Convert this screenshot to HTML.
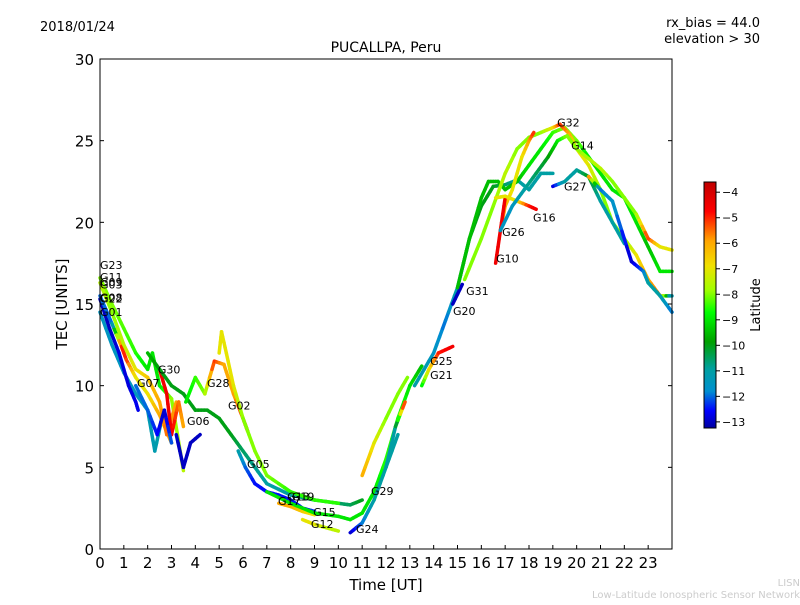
<!DOCTYPE html>
<html><head><meta charset="utf-8"><style>
body{margin:0;background:#fff;}
svg{font-family:"DejaVu Sans","Liberation Sans",sans-serif;}
</style></head><body>
<svg id="c" width="800" height="600" viewBox="0 0 800 600">
<defs><linearGradient id="jet" x1="0" y1="1" x2="0" y2="0">
<stop offset="0" stop-color="#0000a0"/><stop offset="0.07" stop-color="#0000ff"/><stop offset="0.15" stop-color="#0090d0"/><stop offset="0.24" stop-color="#00a0a0"/><stop offset="0.35" stop-color="#00a000"/><stop offset="0.47" stop-color="#00ff00"/><stop offset="0.56" stop-color="#a0ff00"/><stop offset="0.66" stop-color="#f0e000"/><stop offset="0.76" stop-color="#ffa500"/><stop offset="0.88" stop-color="#ff0000"/><stop offset="1" stop-color="#c00000"/></linearGradient></defs>
<rect width="800" height="600" fill="#fff"/>
<text x="40" y="31" font-size="13">2018/01/24</text>
<text x="760" y="27" font-size="13" text-anchor="end">rx_bias = 44.0</text>
<text x="760" y="43" font-size="13" text-anchor="end">elevation &gt; 30</text>
<text x="386" y="52" font-size="14" text-anchor="middle">PUCALLPA, Peru</text>
<g id="marks"></g>
<g id="labels"></g>
<rect x="100" y="59" width="572" height="490" fill="none" stroke="#000" stroke-width="1"/>
<g id="xt"></g><g id="yt"></g>
<text x="386" y="590" font-size="15" text-anchor="middle">Time [UT]</text>
<text transform="translate(67,304) rotate(-90)" font-size="15" text-anchor="middle">TEC [UNITS]</text>
<rect x="704" y="182" width="12" height="246" fill="url(#jet)" stroke="#000" stroke-width="1"/>
<g id="ct"></g>
<text transform="translate(760,305) rotate(-90)" font-size="13" text-anchor="middle">Latitude</text>
<text x="800" y="586" font-size="10" fill="#ccc" text-anchor="end">LISN</text>
<text x="800" y="598" font-size="10" fill="#ccc" text-anchor="end">Low-Latitude Ionospheric Sensor Network</text>
</svg>
<script>
const xTicks=[0,1,2,3,4,5,6,7,8,9,10,11,12,13,14,15,16,17,18,19,20,21,22,23];
const yTicks=[0,5,10,15,20,25,30];
const cTicks=[-4,-5,-6,-7,-8,-9,-10,-11,-12,-13];
// each trace: [time, tec, latitude]
const g01=[[0,14.5,-11.5],[0.5,12.5,-11.5],[1,10.8,-11.5],[1.5,9.5,-11.5],[2,8.5,-11.3],[2.3,6,-11.2],[2.6,8,-11],[3,6.5,-11]];
const g22=[[0,15.3,-13],[0.4,13.5,-13],[0.8,12,-12.8],[1.2,10,-12.8],[1.5,9,-12.7],[1.6,8.5,-12.7]];
const g08=[[0,15.5,-12],[0.5,13.8,-12],[0.9,12.4,-5],[1.1,11.6,-5],[1.5,10.5,-7],[2,9.5,-7],[2.5,8.2,-6],[3,6.5,-6]];
const g11=[[0,16.6,-8],[0.5,15,-8],[1,13.5,-8.3],[1.5,12,-8.5],[2,11,-9],[2.2,12,-9],[2.5,10,-9],[3,9.2,-8],[3.5,4.8,-7.5]];
const g09=[[0,16.3,-7.5],[0.5,14.5,-8],[1,12.5,-7.5],[1.5,11,-7],[2,10.5,-6.5],[2.5,9,-6],[2.8,7,-5.5],[3.2,9,-6]];
const g30=[[2.5,11,-4.5],[2.8,9.5,-4.5],[3.0,7,-4.5],[3.3,9,-5.5],[3.5,7.5,-6]];
const g07=[[1.5,10,-12],[2,8.5,-12],[2.4,7,-12.5],[2.7,8.5,-13],[3,6.5,-12]];
const g06=[[3.2,7,-13],[3.5,5,-13],[3.8,6.5,-13],[4.2,7,-13]];
const g03=[[2,12,-9.5],[2.5,11,-10],[3,10,-10],[3.5,9.5,-10],[4,8.5,-10],[4.5,8.5,-10],[5,8,-10],[5.5,7,-10],[6,6,-10.5],[6.5,5,-10.8],[7,4,-11],[8,3.3,-11],[9,3,-10.5],[10,2.8,-10.5],[10.5,2.7,-10.5],[11,3,-10]];
const g28=[[3.6,9,-9],[4,10.5,-8.5],[4.4,9.5,-8],[4.8,11.5,-5],[5.2,11.3,-6],[5.6,9.5,-6],[6,8,-5],[6.2,7.2,-4.5]];
const g02=[[5,12,-7],[5.1,13.3,-7],[5.3,12,-7],[5.6,10,-7],[6,8,-8],[6.5,6,-8],[7,4.5,-8],[8,3.5,-8.5],[9,3,-8.5],[10,2.8,-8.5]];
const g05=[[5.8,6,-11],[6.1,5,-12],[6.5,4,-12.5],[7,3.5,-12.5],[7.5,3.3,-12.5],[8,3,-12.5],[8.5,2.5,-12.5],[9,2.3,-12.3]];
const g13=[[7.5,2.8,-6],[8,2.6,-6],[8.5,2.3,-6.5],[9,2.1,-7]];
const g12=[[8.5,1.8,-7],[9,1.5,-7],[9.5,1.3,-7.5],[10,1.1,-7.5]];
const g15=[[7,3.5,-9],[8,2.8,-9],[9,2.2,-9],[10,2,-9],[10.5,1.8,-9],[11,2.2,-9],[11.5,3.5,-9],[12,5.5,-8.5],[12.5,8,-8.5],[13,10,-9],[13.5,11.2,-9.5]];
const g24=[[10.5,1,-13],[11,1.6,-12],[11.5,3,-11],[12,5,-11],[12.5,7,-11]];
const g29=[[11,4.5,-6],[11.5,6.5,-7],[12,8,-8],[12.5,9.5,-8],[12.9,10.5,-8]];
const g21=[[12,5,-11],[12.4,7.5,-11],[12.8,9,-4.5]];
const g25=[[13.5,10,-9],[13.8,11,-7],[14.2,12,-5],[14.8,12.4,-4.5]];
const g20=[[13.2,10,-11],[14,12,-11.5],[14.5,14,-12],[15,16,-11],[15.5,19,-10],[16,21,-10],[16.5,22.2,-10],[17,22.3,-10.5],[17.5,22.6,-11],[18,22,-11],[18.5,23,-11],[19,23,-11]];
const g31=[[14.8,15,-13],[15.2,16.2,-13]];
const g09b=[[15,16,-9.5],[15.5,19,-9.5],[16,21.5,-9.5],[16.3,22.5,-9.5],[16.7,22.5,-9.5],[17,22,-9.5],[17.5,22.5,-9.5],[18,23.5,-9],[18.5,24.5,-9],[19,25.5,-8.5],[19.5,25.8,-8],[20,25,-8],[20.5,24,-9],[21,23,-9],[21.5,22,-9],[22,21.5,-9],[22.5,20,-9],[23,18.5,-9.5],[23.5,17,-9],[24,17,-9]];
const g32=[[15.3,16.5,-8],[16,19,-8],[16.5,21,-8],[17,23,-7.5],[17.5,24.5,-8],[18,25.2,-8],[18.5,25.5,-8],[19,25.8,-7],[19.3,26,-5],[19.7,25.4,-6],[20,24.5,-7],[20.5,23.5,-7],[21,22,-8],[21.5,20,-8],[22,19,-8],[22.5,18,-7],[23,16.5,-6],[23.5,15.5,-5.5],[24,15.5,-12]];
const g26=[[16.8,19.5,-6],[17,21,-6],[17.3,22,-7],[17.7,24,-7],[18,25,-6],[18.2,25.5,-5]];
const g10=[[16.6,17.5,-4.5],[16.8,19.5,-4.5],[17,21.5,-4.5]];
const g16=[[16.6,21.5,-7],[17,21.6,-7],[17.5,21.3,-7],[18,21,-5],[18.3,20.8,-4.5]];
const g14=[[16.8,19.5,-11.5],[17.3,21,-11.5],[17.8,22,-11],[18.3,23,-10.5],[18.8,24,-10],[19.2,25,-9],[19.6,25.3,-8],[20,24.5,-8],[21,23.3,-7.5],[21.5,22.5,-8],[22,21.5,-8],[22.5,20.5,-8],[23,19,-5],[23.5,18.5,-7],[24,18.3,-7]];
const g27=[[19,22.2,-13],[19.5,22.5,-11],[20,23.2,-11],[20.5,22.8,-10],[21,21.3,-11],[21.5,20,-11],[22,18.7,-11]];
const g27b=[[20.5,22.8,-5],[21,22,-12],[21.5,21.3,-11.5],[22.3,17.6,-13],[22.8,17,-12],[23,16.3,-11],[23.5,15.5,-11],[24,14.5,-12]];
const traces=[g01,g22,g08,g11,g09,g30,g07,g06,g03,g28,g02,g05,g13,g12,g15,g24,g29,g21,g25,g20,g31,g09b,g32,g26,g10,g16,g14,g27,g27b];
const labelNames=["G23","G11","G09","G03","G08","G22","G01","G07","G30","G28","G02","G06","G05","G13","G17","G19","G15","G12","G24","G29","G25","G21","G20","G31","G10","G26","G16","G27","G14","G32"];
const labelTimes=[0,0,0,0,0,0,0,1.55,2.43,4.49,5.37,3.65,6.17,7.85,7.47,8.05,8.94,8.85,10.74,11.37,13.85,13.85,14.81,15.36,16.62,16.87,18.17,19.47,19.77,19.18];
const labelTec=[17.4,16.65,16.35,16.2,15.4,15.35,14.5,10.15,11.0,10.15,8.8,7.85,5.2,3.2,2.95,3.2,2.27,1.53,1.22,3.55,11.5,10.65,14.57,15.8,17.8,19.4,20.3,22.2,24.7,26.1];
const X0=100,X1=672,Y0=549,Y1=59;
const xs=t=>X0+t*(X1-X0)/24, ys=v=>Y0-v*(Y0-Y1)/30;
const latMin=-13.24,latMax=-3.6;
const cy=l=>428-(l-latMin)*246/(latMax-latMin);
const cmapPos=[0,0.07,0.15,0.24,0.35,0.47,0.56,0.66,0.76,0.88,1];
const cmapCol=[[0,0,160],[0,0,255],[0,144,208],[0,160,160],[0,160,0],[0,255,0],[160,255,0],[240,224,0],[255,165,0],[255,0,0],[192,0,0]];
function jet(l){let v=(l-latMin)/(latMax-latMin);v=Math.max(0,Math.min(1,v));
 let i=0;while(i<cmapPos.length-2&&v>cmapPos[i+1])i++;
 const f=(v-cmapPos[i])/(cmapPos[i+1]-cmapPos[i]);
 const c=k=>Math.round(cmapCol[i][k]+(cmapCol[i+1][k]-cmapCol[i][k])*f);
 return `rgb(${c(0)},${c(1)},${c(2)})`;}
const NS="http://www.w3.org/2000/svg";
const mk=(n,a)=>{const e=document.createElementNS(NS,n);for(const k in a)e.setAttribute(k,a[k]);return e;};
const marks=document.getElementById('marks');
traces.forEach((tr,ti)=>{
 const g=mk('g',{});
 
 
 for(let i=0;i<tr.length-1;i++){
  const a=tr[i],b=tr[i+1],steps=4;
  for(let s=0;s<steps;s++){
   const f0=s/steps,f1=(s+1)/steps;
   const lat=a[2]+(b[2]-a[2])*(f0+f1)/2;
   const ln=mk('line',{x1:xs(a[0]+(b[0]-a[0])*f0),y1:ys(a[1]+(b[1]-a[1])*f0),x2:xs(a[0]+(b[0]-a[0])*f1),y2:ys(a[1]+(b[1]-a[1])*f1),stroke:jet(lat),'stroke-width':3.5,'stroke-linecap':'round'});
   
   
   g.appendChild(ln);
  }
 }
 marks.appendChild(g);
});
const lg=document.getElementById('labels');
labelNames.forEach((n,i)=>{
 const t=mk('text',{x:xs(labelTimes[i]),y:ys(labelTec[i])+4,'font-size':11});
 t.textContent=n;
 
 
 lg.appendChild(t);
});
const xt=document.getElementById('xt');
xTicks.forEach(v=>{
 const x=xs(v);
 const tk=mk('line',{x1:x,x2:x,y1:Y0,y2:Y0-4,stroke:'#000'});
 
 
 xt.appendChild(tk);
 const tx=mk('text',{x:x,y:568,'font-size':15,'text-anchor':'middle'});
 tx.textContent=v;
 
 
 xt.appendChild(tx);
});
const yt=document.getElementById('yt');
yTicks.forEach(v=>{
 const y=ys(v);
 const tk=mk('line',{x1:X0,x2:X0+4,y1:y,y2:y,stroke:'#000'});
 
 
 yt.appendChild(tk);
 const tk2=mk('line',{x1:X1,x2:X1-4,y1:y,y2:y,stroke:'#000'});
 
 
 yt.appendChild(tk2);
 const tx=mk('text',{x:94,y:y+6,'font-size':15,'text-anchor':'end'});
 tx.textContent=v;
 
 
 yt.appendChild(tx);
});
const ct=document.getElementById('ct');
cTicks.forEach(v=>{
 const y=cy(v);
 const tk=mk('line',{x1:716,x2:720,y1:y,y2:y,stroke:'#000'});
 
 
 ct.appendChild(tk);
 const tx=mk('text',{x:722,y:y+4,'font-size':11});
 tx.textContent='\u2212'+Math.abs(v);
 
 
 ct.appendChild(tx);
});
</script>
</body></html>
